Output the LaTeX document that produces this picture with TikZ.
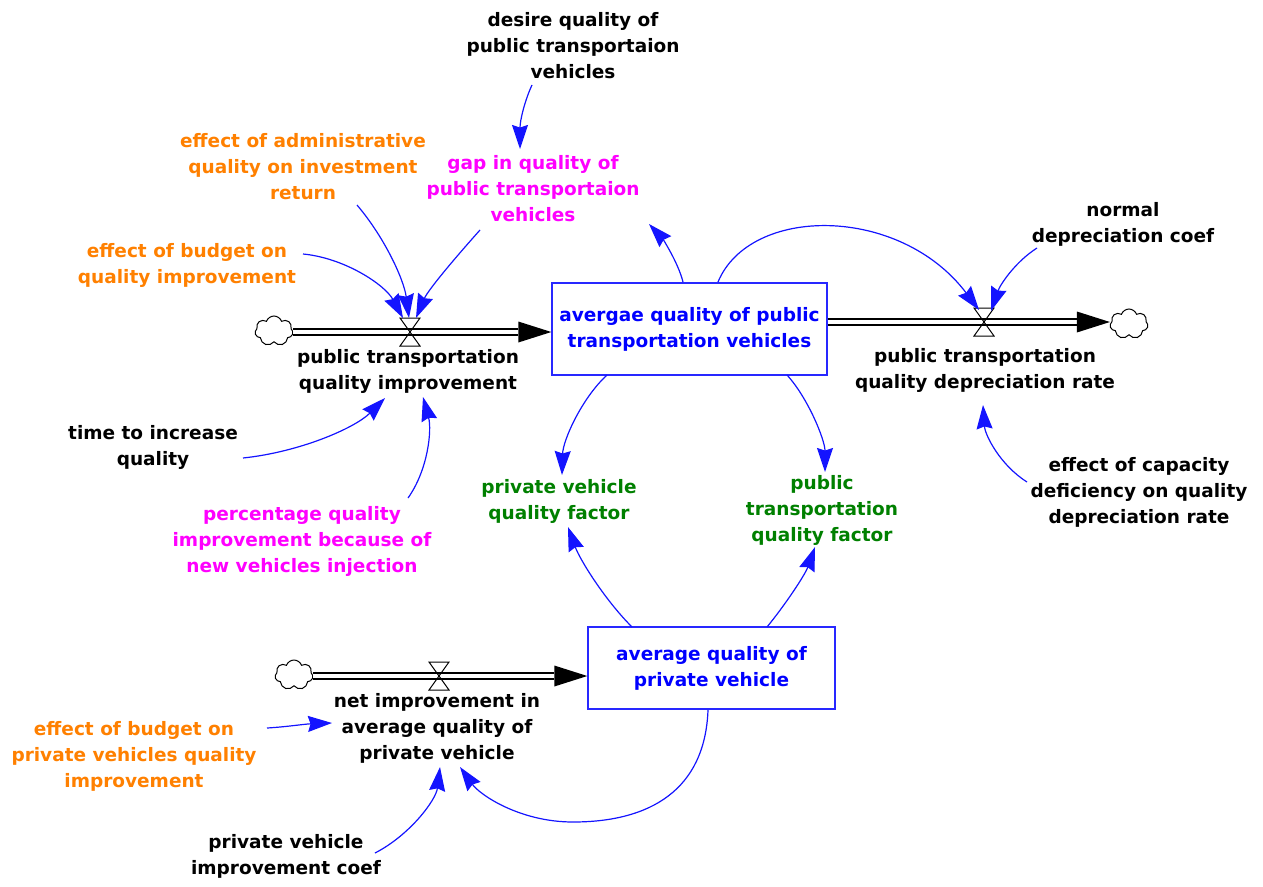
\documentclass[tikz,border=0pt]{standalone}
\usepackage{fontspec}
\setmainfont{DejaVu Sans}
\usetikzlibrary{shapes.symbols,arrows.meta}
\definecolor{stockblue}{RGB}{0,0,255}
\definecolor{boxblue}{RGB}{40,40,255}
\definecolor{linkblue}{RGB}{20,20,255}
\definecolor{vmagenta}{RGB}{255,0,255}
\definecolor{vorange}{RGB}{255,128,0}
\definecolor{vgreen}{RGB}{0,128,0}
\tikzset{
  lbl/.style={align=center, inner sep=0pt, font=\fontsize{18.5}{26}\selectfont\bfseries},
  stock/.style={lbl, draw=boxblue, line width=1.4pt, text=stockblue,
    minimum width=275pt, minimum height=92pt},
  cloudy/.style={cloud, cloud puffs=7, cloud puff arc=140, aspect=1.3, draw,
    line width=1pt, minimum width=38pt, minimum height=30pt, inner sep=0pt},
  pipe/.style={double, line width=1.7pt, double distance=4pt},
  link/.style={draw=linkblue, line width=1.2pt,
    -{Stealth[length=24pt, width=16pt, inset=2.5pt]}},
  valvepic/.pic={\draw[line width=1pt] (-10,-14) -- (10,-14) -- (-10,14) -- (10,14) -- cycle;}
}
\begin{document}
\begin{tikzpicture}[x=1pt, y=-1pt]
\useasboundingbox (0,0) rectangle (1263,886);

% stocks
\node[stock] (S1) at (689.5,329) {avergae quality of public\\transportation vehicles};
\node[stock, minimum width=247pt, minimum height=82pt] (S2) at (711.5,668) {average quality of\\private vehicle};

% sources and sinks
\node[cloudy] (cl1) at (274,331) {};
\node[cloudy] (cl2) at (1129,324) {};
\node[cloudy] (cl3) at (294,675) {};

% valves
\coordinate (v1) at (410,332);
\coordinate (v2) at (984,322);
\coordinate (v3) at (439,676);

% flow labels
\node[lbl] (f1) at (408,371) {public transportation\\quality improvement};
\node[lbl] (f2) at (985,370) {public transportation\\quality depreciation rate};
\node[lbl] (f3) at (437,728) {net improvement in\\average quality of\\private vehicle};

% auxiliaries
\node[lbl] (D) at (573,46) {desire quality of\\public transportaion\\vehicles};
\node[lbl, text=vmagenta] (G) at (533,189) {gap in quality of\\public transportaion\\vehicles};
\node[lbl, text=vorange] (A) at (303,167) {effect of administrative\\quality on investment\\return};
\node[lbl, text=vorange] (B) at (187,265) {effect of budget on\\quality improvement};
\node[lbl] (N) at (1123,224) {normal\\depreciation coef};
\node[lbl] (T) at (153,447) {time to increase\\quality};
\node[lbl, text=vmagenta] (P) at (302,541) {percentage quality\\improvement because of\\new vehicles injection};
\node[lbl, text=vgreen] (pvf) at (559,501) {private vehicle\\quality factor};
\node[lbl, text=vgreen] (ptf) at (822,510) {public\\transportation\\quality factor};
\node[lbl] (C) at (1139,492) {effect of capacity\\deficiency on quality\\depreciation rate};
\node[lbl, text=vorange] (bpv) at (134,756) {effect of budget on\\private vehicles quality\\improvement};
\node[lbl] (coef) at (286,856) {private vehicle\\improvement coef};

% flow pipes
\coordinate (t1) at (S1.west |- v1);
\draw[pipe] (cl1.east |- v1) -- ([xshift=-33pt]t1);
\fill (t1) -- ++(-33,-10.5) -- ++(0,21) -- cycle;
\pic at (v1) {valvepic};

\coordinate (s2o) at (S1.east |- v2);
\coordinate (t2) at (cl2.west |- v2);
\draw[pipe] (s2o) -- ([xshift=-33pt]t2);
\fill (t2) -- ++(-33,-10.5) -- ++(0,21) -- cycle;
\pic at (v2) {valvepic};

\coordinate (t3) at (S2.west |- v3);
\draw[pipe] (cl3.east |- v3) -- ([xshift=-33pt]t3);
\fill (t3) -- ++(-33,-10.5) -- ++(0,21) -- cycle;
\pic at (v3) {valvepic};

% causal links
\draw[link] ([shift={(-41,39)}]D.center) .. controls (525,100) and (520,120) .. ([shift={(-13,-40)}]G.center);
\draw[link] ([shift={(-6.5,-47)}]S1.center) .. controls (678,262) and (662,238) .. ([shift={(116,35)}]G.center);
\draw[link] ([shift={(54,38)}]A.center) .. controls (385,238) and (404,280) .. ([shift={(-1,-14)}]v1);
\draw[link] ([shift={(116,-11)}]B.center) .. controls (345,258) and (385,285) .. ([shift={(-7,-14)}]v1);
\draw[link] ([shift={(-53,41)}]G.center) .. controls (455,258) and (428,290) .. ([shift={(6,-14)}]v1);
\draw[link] ([shift={(28.5,-47)}]S1.center) .. controls (750,205) and (900,205) .. ([shift={(-5,-12)}]v2);
\draw[link] ([shift={(-86,24)}]N.center) .. controls (1015,262) and (1000,285) .. ([shift={(7,-11)}]v2);
\draw[link] ([shift={(90,11)}]T.center) .. controls (300,452) and (355,428) .. ([shift={(-23,27)}]f1.center);
\draw[link] ([shift={(106,-43)}]P.center) .. controls (428,470) and (432,430) .. ([shift={(15,26)}]f1.center);
\draw[link] ([shift={(-82.5,46)}]S1.center) .. controls (582,398) and (563,440) .. ([shift={(3,-26)}]pvf.center);
\draw[link] ([shift={(97.5,46)}]S1.center) .. controls (808,398) and (825,440) .. ([shift={(3,-38)}]ptf.center);
\draw[link] ([shift={(-79.5,-41)}]S2.center) .. controls (605,600) and (580,560) .. ([shift={(9,26)}]pvf.center);
\draw[link] ([shift={(55.5,-41)}]S2.center) .. controls (785,605) and (805,575) .. ([shift={(-7,37)}]ptf.center);
\draw[link] ([shift={(133,-28)}]bpv.center) .. controls (285,727) and (305,724) .. ([shift={(-105,-5)}]f3.center);
\draw[link] ([shift={(-3.5,42)}]S2.center) .. controls (705,790) and (650,822) .. (573,822)
  .. controls (520,822) and (480,795) .. ([shift={(23,39)}]f3.center);
\draw[link] ([shift={(89,-3)}]coef.center) .. controls (410,835) and (436,800) .. ([shift={(3,39)}]f3.center);
\draw[link] ([shift={(-112,-10)}]C.center) .. controls (1000,465) and (985,435) .. ([shift={(-2,35)}]f2.center);
\end{tikzpicture}
\end{document}
